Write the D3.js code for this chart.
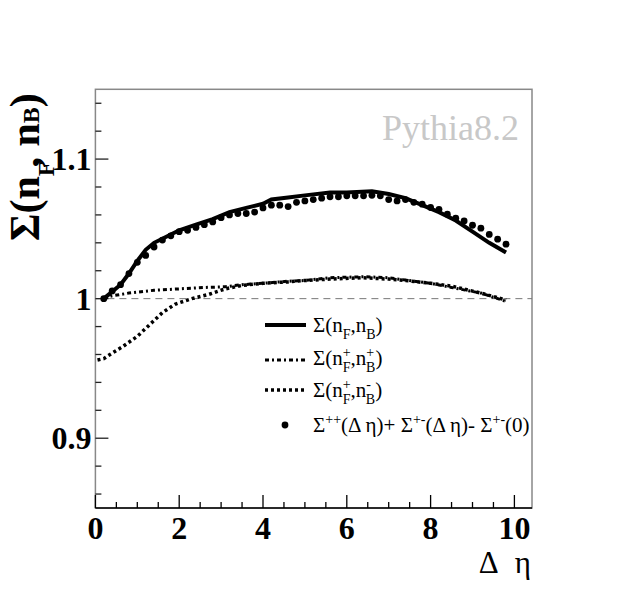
<!DOCTYPE html>
<html>
<head>
<meta charset="utf-8">
<script src="https://cdn.jsdelivr.net/npm/d3@7"></script>
<style>
  body { margin: 0; background: #fff; }
  text { font-family: "Liberation Serif", "Times New Roman", serif; }
</style>
</head>
<body>
<div id="chart"></div>
<script>
// Σ(nF,nB) - solid
const solid = [
    [0.2, 1.000], [0.6, 1.010], [0.8, 1.018], [1.0, 1.027], [1.2, 1.035],
    [1.4, 1.040], [1.8, 1.046], [2.0, 1.049], [2.4, 1.053], [2.8, 1.057],
    [3.2, 1.062], [3.6, 1.065], [4.0, 1.068], [4.2, 1.071], [4.6, 1.0725],
    [5.0, 1.074], [5.6, 1.076], [6.0, 1.076], [6.6, 1.077], [7.0, 1.075],
    [7.4, 1.072], [7.8, 1.067], [8.2, 1.062], [8.6, 1.056], [9.0, 1.048],
    [9.4, 1.040], [9.8, 1.033]
];

// Σ(n+F,n+B) - dash dot
const plusPlus = [
    [0.2, 1.000], [0.4, 1.002], [0.8, 1.004], [1.4, 1.006], [2.0, 1.007],
    [2.6, 1.008], [3.1, 1.0085], [3.5, 1.010], [4.0, 1.011], [4.6, 1.0125],
    [5.0, 1.013], [5.6, 1.015], [6.4, 1.0157], [7.0, 1.015], [7.4, 1.0133],
    [8.0, 1.011], [8.5, 1.008], [9.2, 1.004], [9.8, 0.998]
];

// Σ(n+F,n-B) - dotted
const plusMinus = [
    [0.05, 0.956], [0.2, 0.957], [0.35, 0.960], [0.67, 0.966], [1.0, 0.973],
    [1.3, 0.9815], [1.6, 0.990], [1.9, 0.996], [2.3, 1.000], [2.7, 1.003],
    [3.1, 1.007], [3.5, 1.0095], [4.0, 1.011], [4.6, 1.012], [5.0, 1.013],
    [5.6, 1.014], [6.4, 1.015], [7.0, 1.014], [7.4, 1.013], [8.0, 1.011],
    [8.5, 1.009], [9.2, 1.004], [9.8, 0.999]
];

// Σ++(Δη)+Σ+-(Δη)-Σ+-(0) - markers
const combX = [0.2, 0.4, 0.6, 0.8, 1.0, 1.2, 1.4, 1.6, 1.8, 2.0,
    2.2, 2.4, 2.6, 2.8, 3.0, 3.2, 3.4, 3.6, 3.8, 4.0,
    4.2, 4.4, 4.6, 4.8, 5.0, 5.2, 5.4, 5.6, 5.8, 6.0,
    6.2, 6.4, 6.6, 6.8, 7.0, 7.2, 7.4, 7.6, 7.8, 8.0,
    8.2, 8.4, 8.6, 8.8, 9.0, 9.2, 9.4, 9.6, 9.8];
const combY = [1.000, 1.0055, 1.010, 1.018, 1.026, 1.031, 1.037, 1.042, 1.045, 1.048,
    1.049, 1.051, 1.053, 1.055, 1.058, 1.060, 1.061, 1.061, 1.062, 1.065,
    1.067, 1.067, 1.066, 1.069, 1.070, 1.071, 1.072, 1.073, 1.073, 1.0737,
    1.0737, 1.0737, 1.074, 1.0737, 1.071, 1.070, 1.071, 1.069, 1.0677, 1.0653,
    1.064, 1.0605, 1.0576, 1.0557, 1.0526, 1.0505, 1.046, 1.0426, 1.039];

const xTicks = [0, 2, 4, 6, 8, 10];
const yTicks = [0.9, 1, 1.1];

let W = 627, H = 598,
    LEFT = 95.4, RIGHT = 532, TOP = 89.3, BOTTOM = 508,
    MAJOR = 13, MINOR = 6;

let svg = d3.select("#chart").append("svg")
    .attr("width", W)
    .attr("height", H);

let x = d3.scaleLinear().domain([0, 10.42]).range([LEFT, RIGHT]);
let y = d3.scaleLinear().domain([0.85, 1.15]).range([BOTTOM, TOP]);

// frame
svg.append("rect")
    .attr("x", LEFT).attr("y", TOP)
    .attr("width", RIGHT - LEFT).attr("height", BOTTOM - TOP)
    .attr("fill", "none").attr("stroke", "#888").attr("stroke-width", 1.5);

// reference line at 1
svg.append("line")
    .attr("x1", LEFT).attr("x2", RIGHT)
    .attr("y1", y(1)).attr("y2", y(1))
    .attr("stroke", "#777").attr("stroke-width", 1)
    .attr("stroke-dasharray", "7,5");

// x axis, ticks pointing up
let xAxis = svg.append("g").attr("transform", `translate(0,${BOTTOM})`);
xAxis.append("line").attr("x1", LEFT).attr("x2", RIGHT)
    .attr("stroke", "#000").attr("stroke-width", 1.5);
xAxis.selectAll("line.minor")
    .data(d3.range(0, 10.5, 0.5))
    .join("line")
    .attr("class", "minor")
    .attr("x1", d => x(d)).attr("x2", d => x(d))
    .attr("y1", 0).attr("y2", d => xTicks.includes(d) ? -MAJOR : -MINOR)
    .attr("stroke", "#000").attr("stroke-width", 1.3);
xAxis.selectAll("text")
    .data(xTicks)
    .join("text")
    .attr("x", d => x(d)).attr("y", 31)
    .attr("text-anchor", "middle")
    .attr("font-size", 32).attr("font-weight", "bold")
    .text(d => d);

// y axis, ticks pointing right
let yAxis = svg.append("g").attr("transform", `translate(${LEFT},0)`);
yAxis.selectAll("line.minor")
    .data(d3.range(0.86, 1.15, 0.02))
    .join("line")
    .attr("class", "minor")
    .attr("y1", d => y(d)).attr("y2", d => y(d))
    .attr("x1", 0).attr("x2", d => yTicks.some(t => Math.abs(t - d) < 1e-6) ? MAJOR : MINOR)
    .attr("stroke", "#222").attr("stroke-width", 1.3);
yAxis.selectAll("text")
    .data(yTicks)
    .join("text")
    .attr("x", -4).attr("y", d => y(d) + 11)
    .attr("text-anchor", "end")
    .attr("font-size", 32).attr("font-weight", "bold")
    .text(d => d);

// axis titles
let xtitle = svg.append("text")
    .attr("x", 531).attr("y", 573)
    .attr("text-anchor", "end")
    .attr("font-size", 31);
xtitle.append("tspan").text("Δ");
xtitle.append("tspan").attr("dx", 16).text("η");

let ytitle = svg.append("text")
    .attr("transform", "translate(39,241) rotate(-90)")
    .attr("font-size", 42).attr("font-weight", "bold");
ytitle.append("tspan").text("Σ(n");
ytitle.append("tspan").attr("font-size", 24).attr("dy", 15).text("F");
ytitle.append("tspan").attr("dx", -6).attr("dy", -15).text(", n");
ytitle.append("tspan").attr("font-size", 24).text("B");
ytitle.append("tspan").text(")");

svg.append("text")
    .attr("x", 519).attr("y", 140)
    .attr("text-anchor", "end")
    .attr("font-size", 36).attr("fill", "#c8c8c8")
    .text("Pythia8.2");

// curves
let line = d3.line().x(d => x(d[0])).y(d => y(d[1]));

svg.append("path").datum(plusMinus)
    .attr("d", line).attr("fill", "none")
    .attr("stroke", "#000").attr("stroke-width", 3.5)
    .attr("stroke-dasharray", "3,3");

svg.append("path").datum(plusPlus)
    .attr("d", line).attr("fill", "none")
    .attr("stroke", "#000").attr("stroke-width", 3)
    .attr("stroke-dasharray", "4,3,2,3");

svg.append("path").datum(solid)
    .attr("d", line).attr("fill", "none")
    .attr("stroke", "#000").attr("stroke-width", 4);

svg.append("g").selectAll("circle")
    .data(combX)
    .join("circle")
    .attr("cx", d => x(d))
    .attr("cy", (d, i) => y(combY[i]))
    .attr("r", 3.4)
    .attr("fill", "#000");

// legend
let legend = svg.append("g").attr("font-size", 21);

function legText(yy, parts) {
    let t = legend.append("text").attr("x", 313).attr("y", yy + 7);
    parts.forEach(p => {
        t.append("tspan")
            .attr("font-size", p.s ? 14 : 21)
            .attr("dx", p.dx || 0)
            .attr("dy", p.dy || 0)
            .text(p.t);
    });
}

legend.append("line").attr("x1", 265).attr("x2", 306).attr("y1", 325).attr("y2", 325)
    .attr("stroke", "#000").attr("stroke-width", 4);
legText(325, [{t: "Σ(n"}, {t: "F", s: 1, dy: 7}, {t: ",n", dy: -7}, {t: "B", s: 1, dy: 7}, {t: ")", dy: -7}]);

legend.append("line").attr("x1", 265).attr("x2", 306).attr("y1", 360).attr("y2", 360)
    .attr("stroke", "#000").attr("stroke-width", 3).attr("stroke-dasharray", "4,3,2,3");
legText(358, [{t: "Σ(n"}, {t: "+", s: 1, dy: -8}, {t: "F", s: 1, dx: -8, dy: 15}, {t: ",n", dy: -7},
    {t: "+", s: 1, dy: -8}, {t: "B", s: 1, dx: -8, dy: 15}, {t: ")", dy: -7}]);

legend.append("line").attr("x1", 265).attr("x2", 306).attr("y1", 390).attr("y2", 390)
    .attr("stroke", "#000").attr("stroke-width", 3.5).attr("stroke-dasharray", "3,3");
legText(390, [{t: "Σ(n"}, {t: "+", s: 1, dy: -8}, {t: "F", s: 1, dx: -8, dy: 15}, {t: ",n", dy: -7},
    {t: "-", s: 1, dy: -8}, {t: "B", s: 1, dx: -5, dy: 15}, {t: ")", dy: -7}]);

legend.append("circle").attr("cx", 285).attr("cy", 425).attr("r", 3.4).attr("fill", "#000");
legText(425, [{t: "Σ"}, {t: "++", s: 1, dy: -8}, {t: "(Δ η)+ Σ", dy: 8}, {t: "+-", s: 1, dy: -8},
    {t: "(Δ η)- Σ", dy: 8}, {t: "+-", s: 1, dy: -8}, {t: "(0)", dy: 8}]);
</script>
</body>
</html>
